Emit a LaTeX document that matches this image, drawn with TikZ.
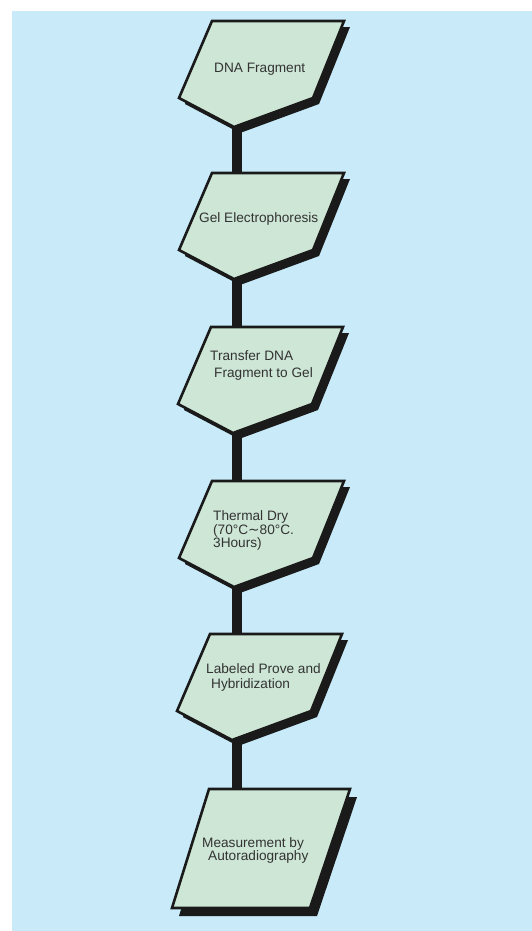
\documentclass[tikz,border=0pt]{standalone}
\usepackage{fontspec}
\setmainfont{Liberation Sans}
\newfontfamily\symfont{DejaVu Sans}
\definecolor{bg}{HTML}{C8EAF9}
\definecolor{boxfill}{HTML}{CDE6D5}
\definecolor{txt}{HTML}{333333}
\definecolor{ink}{HTML}{1A1A1A}
\begin{document}
\begin{tikzpicture}[x=1bp,y=-1bp,
  stepshape/.style={draw=ink, line width=2.6bp, fill=boxfill, line join=miter},
  shadowshape/.style={fill=ink},
  link/.style={line width=10bp, draw=ink},
  lbl/.style={anchor=base west, inner sep=0pt, text=txt, font=\fontsize{13.7}{15}\selectfont}]
\useasboundingbox (0,0) rectangle (532,931);
\fill[bg] (12,11) rectangle (532,931);
% anchor coordinates of the boxes
\foreach \n/\t/\d in {1/21/0,2/173/0,3/327/-1,4/481/0,5/634/-2} {
  \coordinate (t\n) at (237,\t);
  \coordinate (b\n) at (237,\t+100);
}
\coordinate (t6) at (237,789);
% connectors
\draw[link] (b1) -- (t2);
\draw[link] (b2) -- (t3);
\draw[link] (b3) -- (t4);
\draw[link] (b4) -- (t5);
\draw[link] (b5) -- (t6);
% pentagon boxes
\foreach \n/\t/\d in {1/21/0,2/173/0,3/327/-1,4/481/0,5/634/-2} {
  \fill[shadowshape, shift={(6,6)}] (212+\d,\t) -- (344+\d,\t) -- (313+\d,\t+77) -- (234+\d,\t+106) -- (179+\d,\t+77) -- cycle;
  \path[stepshape] (212+\d,\t) -- (344+\d,\t) -- (313+\d,\t+77) -- (234+\d,\t+106) -- (179+\d,\t+77) -- cycle;
}
% last box (parallelogram)
\fill[shadowshape, shift={(7,8)}] (209,789) -- (350,789) -- (310,908) -- (172,908) -- cycle;
\path[stepshape] (209,789) -- (350,789) -- (310,908) -- (172,908) -- cycle;
% labels
\node[lbl] (l1) at (214,72) {DNA Fragment};
\node[lbl] (l2) at (199,222) {Gel Electrophoresis};
\node[lbl] (l3a) at (210,360.5) {Transfer DNA};
\node[lbl] (l3b) at (214,377.5) {Fragment to Gel};
\node[lbl] (l4a) at (213,520) {Thermal Dry};
\node[lbl] (l4b) at (213,534) {(70°C{\symfont ∼}80°C.};
\node[lbl] (l4c) at (213,547) {3Hours)};
\node[lbl] (l5a) at (206,673) {Labeled Prove and};
\node[lbl] (l5b) at (211,688) {Hybridization};
\node[lbl] (l6a) at (202,847) {Measurement by};
\node[lbl] (l6b) at (208,860.5) {Autoradiography};
\end{tikzpicture}
\end{document}
